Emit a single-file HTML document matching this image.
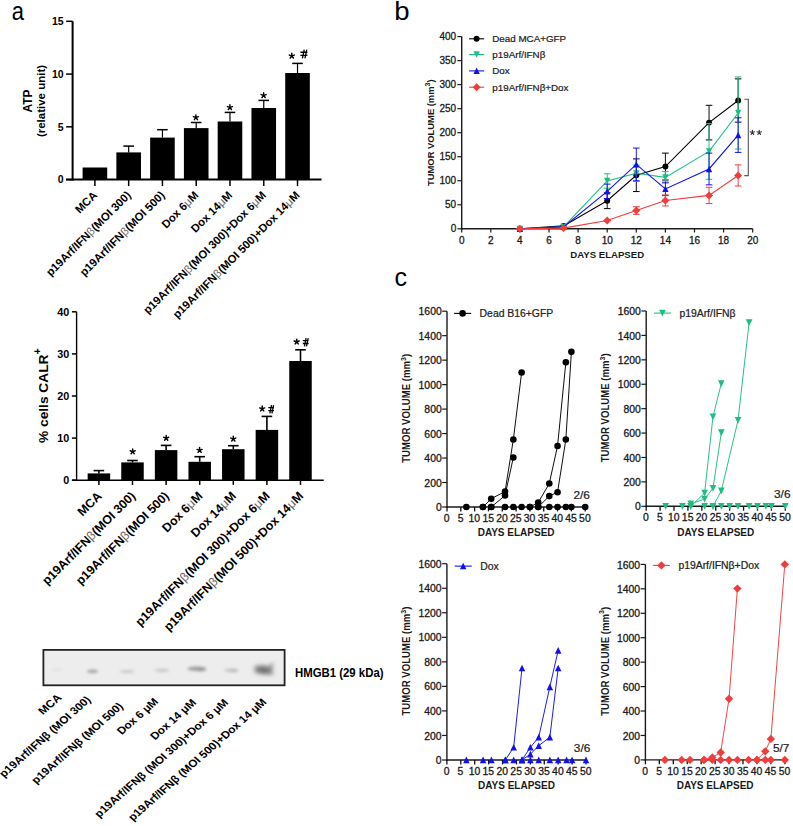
<!DOCTYPE html>
<html><head><meta charset="utf-8"><title>Figure</title>
<style>
html,body{margin:0;padding:0;background:#fff;}
body{width:793px;height:826px;overflow:hidden;}
svg{display:block;}
text{font-family:"Liberation Sans", sans-serif;}
.th{stroke:#1a1a1a;stroke-width:0.3px;}
.th2{stroke:#222;stroke-width:0.22px;}
</style></head><body>
<svg width="793" height="826" viewBox="0 0 793 826">
<rect width="793" height="826" fill="#fff"/>
<text x="0" y="0" font-size="25.5" text-anchor="start" fill="#000" transform="translate(11.80,20.40) scale(0.86,1)">a</text>
<text x="0" y="0" font-size="26" text-anchor="start" fill="#000" transform="translate(394.20,20.40) scale(1.06,1)">b</text>
<text x="394.50" y="285.50" font-size="25" text-anchor="start" fill="#000">c</text>
<line x1="72.60" y1="21.30" x2="72.60" y2="180.60" stroke="#000" stroke-width="2"/>
<line x1="66.10" y1="179.60" x2="321.50" y2="179.60" stroke="#000" stroke-width="2"/>
<line x1="66.10" y1="179.60" x2="72.60" y2="179.60" stroke="#000" stroke-width="1.5"/>
<text x="63.60" y="183.38" font-size="10.5" font-weight="bold" text-anchor="end" fill="#000">0</text>
<line x1="66.10" y1="126.83" x2="72.60" y2="126.83" stroke="#000" stroke-width="1.5"/>
<text x="63.60" y="130.61" font-size="10.5" font-weight="bold" text-anchor="end" fill="#000">5</text>
<line x1="66.10" y1="74.07" x2="72.60" y2="74.07" stroke="#000" stroke-width="1.5"/>
<text x="63.60" y="77.85" font-size="10.5" font-weight="bold" text-anchor="end" fill="#000">10</text>
<line x1="66.10" y1="21.30" x2="72.60" y2="21.30" stroke="#000" stroke-width="1.5"/>
<text x="63.60" y="25.08" font-size="10.5" font-weight="bold" text-anchor="end" fill="#000">15</text>
<line x1="94.90" y1="179.60" x2="94.90" y2="186.10" stroke="#000" stroke-width="1.5"/>
<rect x="82.60" y="167.50" width="24.60" height="12.10" fill="#000"/>
<text x="0.00" y="0.00" font-size="11.3" font-weight="bold" text-anchor="end" fill="#000" transform="translate(97.90,195.90) rotate(-45)">MCA</text>
<line x1="128.67" y1="179.60" x2="128.67" y2="186.10" stroke="#000" stroke-width="1.5"/>
<rect x="116.37" y="152.40" width="24.60" height="27.20" fill="#000"/>
<line x1="128.67" y1="146.10" x2="128.67" y2="152.40" stroke="#000" stroke-width="1.2"/>
<line x1="123.37" y1="146.10" x2="133.97" y2="146.10" stroke="#000" stroke-width="1.5"/>
<text x="0.00" y="0.00" font-size="11.3" font-weight="bold" text-anchor="end" fill="#000" transform="translate(131.67,195.90) rotate(-45)">p19Arf/IFN<tspan font-weight="normal" fill="#666">&#946;</tspan>(MOI 300)</text>
<line x1="162.44" y1="179.60" x2="162.44" y2="186.10" stroke="#000" stroke-width="1.5"/>
<rect x="150.14" y="137.60" width="24.60" height="42.00" fill="#000"/>
<line x1="162.44" y1="129.70" x2="162.44" y2="137.60" stroke="#000" stroke-width="1.2"/>
<line x1="157.14" y1="129.70" x2="167.74" y2="129.70" stroke="#000" stroke-width="1.5"/>
<text x="0.00" y="0.00" font-size="11.3" font-weight="bold" text-anchor="end" fill="#000" transform="translate(165.44,195.90) rotate(-45)">p19Arf/IFN<tspan font-weight="normal" fill="#666">&#946;</tspan>(MOI 500)</text>
<line x1="196.21" y1="179.60" x2="196.21" y2="186.10" stroke="#000" stroke-width="1.5"/>
<rect x="183.91" y="128.10" width="24.60" height="51.50" fill="#000"/>
<line x1="196.21" y1="122.50" x2="196.21" y2="128.10" stroke="#000" stroke-width="1.2"/>
<line x1="190.91" y1="122.50" x2="201.51" y2="122.50" stroke="#000" stroke-width="1.5"/>
<text x="0.00" y="0.00" font-size="11.3" font-weight="bold" text-anchor="end" fill="#000" transform="translate(199.21,195.90) rotate(-45)">Dox 6<tspan font-weight="normal" fill="#666">&#956;</tspan>M</text>
<line x1="229.98" y1="179.60" x2="229.98" y2="186.10" stroke="#000" stroke-width="1.5"/>
<rect x="217.68" y="121.50" width="24.60" height="58.10" fill="#000"/>
<line x1="229.98" y1="112.40" x2="229.98" y2="121.50" stroke="#000" stroke-width="1.2"/>
<line x1="224.68" y1="112.40" x2="235.28" y2="112.40" stroke="#000" stroke-width="1.5"/>
<text x="0.00" y="0.00" font-size="11.3" font-weight="bold" text-anchor="end" fill="#000" transform="translate(232.98,195.90) rotate(-45)">Dox 14<tspan font-weight="normal" fill="#666">&#956;</tspan>M</text>
<line x1="263.75" y1="179.60" x2="263.75" y2="186.10" stroke="#000" stroke-width="1.5"/>
<rect x="251.45" y="108.00" width="24.60" height="71.60" fill="#000"/>
<line x1="263.75" y1="100.40" x2="263.75" y2="108.00" stroke="#000" stroke-width="1.2"/>
<line x1="258.45" y1="100.40" x2="269.05" y2="100.40" stroke="#000" stroke-width="1.5"/>
<text x="0.00" y="0.00" font-size="11.3" font-weight="bold" text-anchor="end" fill="#000" transform="translate(266.75,195.90) rotate(-45)">p19Arf/IFN<tspan font-weight="normal" fill="#666">&#946;</tspan>(MOI 300)+Dox 6<tspan font-weight="normal" fill="#666">&#956;</tspan>M</text>
<line x1="297.52" y1="179.60" x2="297.52" y2="186.10" stroke="#000" stroke-width="1.5"/>
<rect x="285.22" y="73.00" width="24.60" height="106.60" fill="#000"/>
<line x1="297.52" y1="63.40" x2="297.52" y2="73.00" stroke="#000" stroke-width="1.2"/>
<line x1="292.22" y1="63.40" x2="302.82" y2="63.40" stroke="#000" stroke-width="1.5"/>
<text x="0.00" y="0.00" font-size="11.3" font-weight="bold" text-anchor="end" fill="#000" transform="translate(300.52,195.90) rotate(-45)">p19Arf/IFN<tspan font-weight="normal" fill="#666">&#946;</tspan>(MOI 500)+Dox 14<tspan font-weight="normal" fill="#666">&#956;</tspan>M</text>
<path d="M195.90,117.50L195.90,114.85M195.90,117.50L198.42,116.68M195.90,117.50L197.46,119.64M195.90,117.50L194.34,119.64M195.90,117.50L193.38,116.68" stroke="#000" stroke-width="1.45" stroke-linecap="round" fill="none"/>
<path d="M229.90,107.40L229.90,104.75M229.90,107.40L232.42,106.58M229.90,107.40L231.46,109.54M229.90,107.40L228.34,109.54M229.90,107.40L227.38,106.58" stroke="#000" stroke-width="1.45" stroke-linecap="round" fill="none"/>
<path d="M263.60,95.40L263.60,92.75M263.60,95.40L266.12,94.58M263.60,95.40L265.16,97.54M263.60,95.40L262.04,97.54M263.60,95.40L261.08,94.58" stroke="#000" stroke-width="1.45" stroke-linecap="round" fill="none"/>
<path d="M291.80,55.90L291.80,53.25M291.80,55.90L294.32,55.08M291.80,55.90L293.36,58.04M291.80,55.90L290.24,58.04M291.80,55.90L289.28,55.08" stroke="#000" stroke-width="1.45" stroke-linecap="round" fill="none"/>
<path d="M304.26,49.60L302.42,58.40M306.78,49.60L304.94,58.40M300.40,52.24L307.40,52.24M300.40,55.41L307.40,55.41" stroke="#000" stroke-width="1.3" fill="none"/>
<text x="0.00" y="0.00" font-size="12" font-weight="bold" text-anchor="middle" fill="#000" transform="translate(31.90,101.00) rotate(-90)">ATP</text>
<text x="0.00" y="0.00" font-size="11.5" font-weight="bold" text-anchor="middle" fill="#000" transform="translate(45.30,101.00) rotate(-90)">(relative unit)</text>
<line x1="76.60" y1="311.80" x2="76.60" y2="480.90" stroke="#000" stroke-width="1.4"/>
<line x1="71.90" y1="480.20" x2="323.70" y2="480.20" stroke="#000" stroke-width="1.4"/>
<line x1="71.90" y1="480.20" x2="76.60" y2="480.20" stroke="#000" stroke-width="1.5"/>
<text x="69.30" y="484.09" font-size="10.8" font-weight="bold" text-anchor="end" fill="#000">0</text>
<line x1="71.90" y1="438.10" x2="76.60" y2="438.10" stroke="#000" stroke-width="1.5"/>
<text x="69.30" y="441.99" font-size="10.8" font-weight="bold" text-anchor="end" fill="#000">10</text>
<line x1="71.90" y1="396.00" x2="76.60" y2="396.00" stroke="#000" stroke-width="1.5"/>
<text x="69.30" y="399.89" font-size="10.8" font-weight="bold" text-anchor="end" fill="#000">20</text>
<line x1="71.90" y1="353.90" x2="76.60" y2="353.90" stroke="#000" stroke-width="1.5"/>
<text x="69.30" y="357.79" font-size="10.8" font-weight="bold" text-anchor="end" fill="#000">30</text>
<line x1="71.90" y1="311.80" x2="76.60" y2="311.80" stroke="#000" stroke-width="1.5"/>
<text x="69.30" y="315.69" font-size="10.8" font-weight="bold" text-anchor="end" fill="#000">40</text>
<line x1="98.90" y1="480.20" x2="98.90" y2="484.90" stroke="#000" stroke-width="1.5"/>
<rect x="87.65" y="473.40" width="22.50" height="6.80" fill="#000"/>
<line x1="98.90" y1="470.60" x2="98.90" y2="473.40" stroke="#000" stroke-width="1.6"/>
<line x1="93.60" y1="470.60" x2="104.20" y2="470.60" stroke="#000" stroke-width="1.6"/>
<text x="0.00" y="0.00" font-size="12.4" font-weight="bold" text-anchor="end" fill="#000" transform="translate(102.50,496.80) rotate(-45)">MCA</text>
<line x1="132.50" y1="480.20" x2="132.50" y2="484.90" stroke="#000" stroke-width="1.5"/>
<rect x="121.25" y="462.40" width="22.50" height="17.80" fill="#000"/>
<line x1="132.50" y1="460.50" x2="132.50" y2="462.40" stroke="#000" stroke-width="1.6"/>
<line x1="127.20" y1="460.50" x2="137.80" y2="460.50" stroke="#000" stroke-width="1.6"/>
<text x="0.00" y="0.00" font-size="12.4" font-weight="bold" text-anchor="end" fill="#000" transform="translate(136.10,496.80) rotate(-45)">p19Arf/IFN<tspan font-weight="normal" fill="#666">&#946;</tspan>(MOI 300)</text>
<line x1="166.10" y1="480.20" x2="166.10" y2="484.90" stroke="#000" stroke-width="1.5"/>
<rect x="154.85" y="450.10" width="22.50" height="30.10" fill="#000"/>
<line x1="166.10" y1="445.40" x2="166.10" y2="450.10" stroke="#000" stroke-width="1.6"/>
<line x1="160.80" y1="445.40" x2="171.40" y2="445.40" stroke="#000" stroke-width="1.6"/>
<text x="0.00" y="0.00" font-size="12.4" font-weight="bold" text-anchor="end" fill="#000" transform="translate(169.70,496.80) rotate(-45)">p19Arf/IFN<tspan font-weight="normal" fill="#666">&#946;</tspan>(MOI 500)</text>
<line x1="199.70" y1="480.20" x2="199.70" y2="484.90" stroke="#000" stroke-width="1.5"/>
<rect x="188.45" y="461.80" width="22.50" height="18.40" fill="#000"/>
<line x1="199.70" y1="456.70" x2="199.70" y2="461.80" stroke="#000" stroke-width="1.6"/>
<line x1="194.40" y1="456.70" x2="205.00" y2="456.70" stroke="#000" stroke-width="1.6"/>
<text x="0.00" y="0.00" font-size="12.4" font-weight="bold" text-anchor="end" fill="#000" transform="translate(203.30,496.80) rotate(-45)">Dox 6<tspan font-weight="normal" fill="#666">&#956;</tspan>M</text>
<line x1="233.30" y1="480.20" x2="233.30" y2="484.90" stroke="#000" stroke-width="1.5"/>
<rect x="222.05" y="449.20" width="22.50" height="31.00" fill="#000"/>
<line x1="233.30" y1="445.70" x2="233.30" y2="449.20" stroke="#000" stroke-width="1.6"/>
<line x1="228.00" y1="445.70" x2="238.60" y2="445.70" stroke="#000" stroke-width="1.6"/>
<text x="0.00" y="0.00" font-size="12.4" font-weight="bold" text-anchor="end" fill="#000" transform="translate(236.90,496.80) rotate(-45)">Dox 14<tspan font-weight="normal" fill="#666">&#956;</tspan>M</text>
<line x1="266.90" y1="480.20" x2="266.90" y2="484.90" stroke="#000" stroke-width="1.5"/>
<rect x="255.65" y="429.90" width="22.50" height="50.30" fill="#000"/>
<line x1="266.90" y1="416.40" x2="266.90" y2="429.90" stroke="#000" stroke-width="1.6"/>
<line x1="261.60" y1="416.40" x2="272.20" y2="416.40" stroke="#000" stroke-width="1.6"/>
<text x="0.00" y="0.00" font-size="12.4" font-weight="bold" text-anchor="end" fill="#000" transform="translate(270.50,496.80) rotate(-45)">p19Arf/IFN<tspan font-weight="normal" fill="#666">&#946;</tspan>(MOI 300)+Dox 6<tspan font-weight="normal" fill="#666">&#956;</tspan>M</text>
<line x1="300.50" y1="480.20" x2="300.50" y2="484.90" stroke="#000" stroke-width="1.5"/>
<rect x="289.25" y="361.00" width="22.50" height="119.20" fill="#000"/>
<line x1="300.50" y1="349.80" x2="300.50" y2="361.00" stroke="#000" stroke-width="1.6"/>
<line x1="295.20" y1="349.80" x2="305.80" y2="349.80" stroke="#000" stroke-width="1.6"/>
<text x="0.00" y="0.00" font-size="12.4" font-weight="bold" text-anchor="end" fill="#000" transform="translate(304.10,496.80) rotate(-45)">p19Arf/IFN<tspan font-weight="normal" fill="#666">&#946;</tspan>(MOI 500)+Dox 14<tspan font-weight="normal" fill="#666">&#956;</tspan>M</text>
<path d="M132.70,451.60L132.70,448.95M132.70,451.60L135.22,450.78M132.70,451.60L134.26,453.74M132.70,451.60L131.14,453.74M132.70,451.60L130.18,450.78" stroke="#000" stroke-width="1.45" stroke-linecap="round" fill="none"/>
<path d="M166.20,438.10L166.20,435.45M166.20,438.10L168.72,437.28M166.20,438.10L167.76,440.24M166.20,438.10L164.64,440.24M166.20,438.10L163.68,437.28" stroke="#000" stroke-width="1.45" stroke-linecap="round" fill="none"/>
<path d="M199.60,450.20L199.60,447.55M199.60,450.20L202.12,449.38M199.60,450.20L201.16,452.34M199.60,450.20L198.04,452.34M199.60,450.20L197.08,449.38" stroke="#000" stroke-width="1.45" stroke-linecap="round" fill="none"/>
<path d="M233.30,438.90L233.30,436.25M233.30,438.90L235.82,438.08M233.30,438.90L234.86,441.04M233.30,438.90L231.74,441.04M233.30,438.90L230.78,438.08" stroke="#000" stroke-width="1.45" stroke-linecap="round" fill="none"/>
<path d="M262.20,408.70L262.20,406.05M262.20,408.70L264.72,407.88M262.20,408.70L263.76,410.84M262.20,408.70L260.64,410.84M262.20,408.70L259.68,407.88" stroke="#000" stroke-width="1.45" stroke-linecap="round" fill="none"/>
<path d="M271.57,405.10L269.82,413.40M273.62,405.10L271.87,413.40M268.30,407.59L274.00,407.59M268.30,410.58L274.00,410.58" stroke="#000" stroke-width="1.3" fill="none"/>
<path d="M296.70,341.80L296.70,339.15M296.70,341.80L299.22,340.98M296.70,341.80L298.26,343.94M296.70,341.80L295.14,343.94M296.70,341.80L294.18,340.98" stroke="#000" stroke-width="1.45" stroke-linecap="round" fill="none"/>
<path d="M306.10,338.10L304.38,346.30M308.19,338.10L306.46,346.30M302.80,340.56L308.60,340.56M302.80,343.51L308.60,343.51" stroke="#000" stroke-width="1.3" fill="none"/>
<text x="0" y="0" font-size="12.2" font-weight="bold" textLength="88.5" lengthAdjust="spacingAndGlyphs" transform="translate(47.5,443) rotate(-90)">% cells CALR</text>
<text x="0" y="0" font-size="10.5" font-weight="bold" transform="translate(41.2,354.6) rotate(-90)">+</text>
<rect x="43.4" y="649.9" width="241.2" height="35.4" fill="#ededed" stroke="#222" stroke-width="1.8"/>
<defs><filter id="bl" x="-50%" y="-80%" width="200%" height="260%"><feGaussianBlur stdDeviation="1.5"/></filter><filter id="bl2" x="-50%" y="-80%" width="200%" height="260%"><feGaussianBlur stdDeviation="2"/></filter></defs>
<ellipse cx="57" cy="669.8" rx="5" ry="1.3" fill="#000" fill-opacity="0.05" filter="url(#bl)"/>
<ellipse cx="92.5" cy="671.2" rx="5.5" ry="1.8" fill="#000" fill-opacity="0.3" filter="url(#bl)"/>
<ellipse cx="127.3" cy="671.6" rx="7.5" ry="1.5" fill="#000" fill-opacity="0.16" filter="url(#bl)"/>
<ellipse cx="162" cy="670.3" rx="7.5" ry="1.6" fill="#000" fill-opacity="0.17" filter="url(#bl)"/>
<ellipse cx="196.8" cy="668.8" rx="9.5" ry="2.2" fill="#000" fill-opacity="0.33" filter="url(#bl)"/>
<ellipse cx="231.5" cy="670.2" rx="7" ry="1.8" fill="#000" fill-opacity="0.17" filter="url(#bl)"/>
<ellipse cx="202" cy="670" rx="4.5" ry="1.8" fill="#000" fill-opacity="0.12" filter="url(#bl)"/>
<ellipse cx="234" cy="671" rx="3.5" ry="1.5" fill="#000" fill-opacity="0.08" filter="url(#bl)"/>
<path d="M254.5,666 Q262,664.5 268,666.5 L273.5,662 L272.5,668.5 L273,675 Q262,674.5 254.5,672.5 Z" fill="#000" fill-opacity="0.40" filter="url(#bl2)"/>
<ellipse cx="263.5" cy="670" rx="6" ry="3" fill="#000" fill-opacity="0.22" filter="url(#bl2)"/>
<text x="295.00" y="676.50" font-size="12" font-weight="bold" text-anchor="start" fill="#000" textLength="88.5" lengthAdjust="spacingAndGlyphs">HMGB1 (29 kDa)</text>
<text x="0" y="0" font-size="10.5" font-weight="bold" text-anchor="end" transform="translate(62.2,698.3) scale(1.13,1) rotate(-45)">MCA</text>
<text x="0" y="0" font-size="10.5" font-weight="bold" text-anchor="end" transform="translate(91.5,700.5) scale(1.13,1) rotate(-45)">p19Arf/IFN&#946; (MOI 300)</text>
<text x="0" y="0" font-size="10.5" font-weight="bold" text-anchor="end" transform="translate(123.8,707.0) scale(1.13,1) rotate(-45)">p19Arf/IFN&#946; (MOI 500)</text>
<text x="0" y="0" font-size="10.5" font-weight="bold" text-anchor="end" transform="translate(159.0,702.4) scale(1.13,1) rotate(-45)">Dox 6 &#956;M</text>
<text x="0" y="0" font-size="10.5" font-weight="bold" text-anchor="end" transform="translate(196.9,703.4) scale(1.13,1) rotate(-45)">Dox 14 &#956;M</text>
<text x="0" y="0" font-size="10.5" font-weight="bold" text-anchor="end" transform="translate(229.0,703.4) scale(1.13,1) rotate(-45)">p19Arf/IFN&#946; (MOI 300)+Dox 6 &#956;M</text>
<text x="0" y="0" font-size="10.5" font-weight="bold" text-anchor="end" transform="translate(267.3,702.7) scale(1.13,1) rotate(-45)">p19Arf/IFN&#946; (MOI 500)+Dox 14 &#956;M</text>
<line x1="461.70" y1="36.60" x2="461.70" y2="229.50" stroke="#1a1a1a" stroke-width="1.4"/>
<line x1="461.00" y1="228.80" x2="752.70" y2="228.80" stroke="#1a1a1a" stroke-width="1.4"/>
<line x1="457.40" y1="228.80" x2="461.70" y2="228.80" stroke="#1a1a1a" stroke-width="1.2"/>
<text x="456.20" y="232.40" font-size="10" text-anchor="end" fill="#1a1a1a" class="th">0</text>
<line x1="457.40" y1="204.78" x2="461.70" y2="204.78" stroke="#1a1a1a" stroke-width="1.2"/>
<text x="456.20" y="208.38" font-size="10" text-anchor="end" fill="#1a1a1a" class="th">50</text>
<line x1="457.40" y1="180.75" x2="461.70" y2="180.75" stroke="#1a1a1a" stroke-width="1.2"/>
<text x="456.20" y="184.35" font-size="10" text-anchor="end" fill="#1a1a1a" class="th">100</text>
<line x1="457.40" y1="156.73" x2="461.70" y2="156.73" stroke="#1a1a1a" stroke-width="1.2"/>
<text x="456.20" y="160.33" font-size="10" text-anchor="end" fill="#1a1a1a" class="th">150</text>
<line x1="457.40" y1="132.70" x2="461.70" y2="132.70" stroke="#1a1a1a" stroke-width="1.2"/>
<text x="456.20" y="136.30" font-size="10" text-anchor="end" fill="#1a1a1a" class="th">200</text>
<line x1="457.40" y1="108.68" x2="461.70" y2="108.68" stroke="#1a1a1a" stroke-width="1.2"/>
<text x="456.20" y="112.28" font-size="10" text-anchor="end" fill="#1a1a1a" class="th">250</text>
<line x1="457.40" y1="84.65" x2="461.70" y2="84.65" stroke="#1a1a1a" stroke-width="1.2"/>
<text x="456.20" y="88.25" font-size="10" text-anchor="end" fill="#1a1a1a" class="th">300</text>
<line x1="457.40" y1="60.63" x2="461.70" y2="60.63" stroke="#1a1a1a" stroke-width="1.2"/>
<text x="456.20" y="64.23" font-size="10" text-anchor="end" fill="#1a1a1a" class="th">350</text>
<line x1="457.40" y1="36.60" x2="461.70" y2="36.60" stroke="#1a1a1a" stroke-width="1.2"/>
<text x="456.20" y="40.20" font-size="10" text-anchor="end" fill="#1a1a1a" class="th">400</text>
<line x1="461.70" y1="228.80" x2="461.70" y2="232.40" stroke="#1a1a1a" stroke-width="1.2"/>
<text x="461.70" y="243.60" font-size="10" text-anchor="middle" fill="#1a1a1a" class="th">0</text>
<line x1="490.80" y1="228.80" x2="490.80" y2="232.40" stroke="#1a1a1a" stroke-width="1.2"/>
<text x="490.80" y="243.60" font-size="10" text-anchor="middle" fill="#1a1a1a" class="th">2</text>
<line x1="519.90" y1="228.80" x2="519.90" y2="232.40" stroke="#1a1a1a" stroke-width="1.2"/>
<text x="519.90" y="243.60" font-size="10" text-anchor="middle" fill="#1a1a1a" class="th">4</text>
<line x1="549.00" y1="228.80" x2="549.00" y2="232.40" stroke="#1a1a1a" stroke-width="1.2"/>
<text x="549.00" y="243.60" font-size="10" text-anchor="middle" fill="#1a1a1a" class="th">6</text>
<line x1="578.10" y1="228.80" x2="578.10" y2="232.40" stroke="#1a1a1a" stroke-width="1.2"/>
<text x="578.10" y="243.60" font-size="10" text-anchor="middle" fill="#1a1a1a" class="th">8</text>
<line x1="607.20" y1="228.80" x2="607.20" y2="232.40" stroke="#1a1a1a" stroke-width="1.2"/>
<text x="607.20" y="243.60" font-size="10" text-anchor="middle" fill="#1a1a1a" class="th">10</text>
<line x1="636.30" y1="228.80" x2="636.30" y2="232.40" stroke="#1a1a1a" stroke-width="1.2"/>
<text x="636.30" y="243.60" font-size="10" text-anchor="middle" fill="#1a1a1a" class="th">12</text>
<line x1="665.40" y1="228.80" x2="665.40" y2="232.40" stroke="#1a1a1a" stroke-width="1.2"/>
<text x="665.40" y="243.60" font-size="10" text-anchor="middle" fill="#1a1a1a" class="th">14</text>
<line x1="694.50" y1="228.80" x2="694.50" y2="232.40" stroke="#1a1a1a" stroke-width="1.2"/>
<text x="694.50" y="243.60" font-size="10" text-anchor="middle" fill="#1a1a1a" class="th">16</text>
<line x1="723.60" y1="228.80" x2="723.60" y2="232.40" stroke="#1a1a1a" stroke-width="1.2"/>
<text x="723.60" y="243.60" font-size="10" text-anchor="middle" fill="#1a1a1a" class="th">18</text>
<line x1="752.70" y1="228.80" x2="752.70" y2="232.40" stroke="#1a1a1a" stroke-width="1.2"/>
<text x="752.70" y="243.60" font-size="10" text-anchor="middle" fill="#1a1a1a" class="th">20</text>
<text x="607.20" y="257.70" font-size="9.6" font-weight="bold" text-anchor="middle" fill="#1a1a1a">DAYS ELAPSED</text>
<text x="0" y="0" font-size="9.4" font-weight="bold" text-anchor="middle" fill="#1a1a1a" transform="translate(433.6,132.7) rotate(-90)">TUMOR VOLUME (mm<tspan font-size="7" dy="-4">3</tspan><tspan dy="4">)</tspan></text>
<line x1="607.20" y1="192.76" x2="607.20" y2="208.62" stroke="#000" stroke-width="0.95"/>
<line x1="603.90" y1="192.76" x2="610.50" y2="192.76" stroke="#000" stroke-width="1.0"/>
<line x1="603.90" y1="208.62" x2="610.50" y2="208.62" stroke="#000" stroke-width="1.0"/>
<line x1="636.30" y1="158.89" x2="636.30" y2="191.56" stroke="#000" stroke-width="0.95"/>
<line x1="633.00" y1="158.89" x2="639.60" y2="158.89" stroke="#000" stroke-width="1.0"/>
<line x1="633.00" y1="191.56" x2="639.60" y2="191.56" stroke="#000" stroke-width="1.0"/>
<line x1="665.40" y1="153.12" x2="665.40" y2="180.03" stroke="#000" stroke-width="0.95"/>
<line x1="662.10" y1="153.12" x2="668.70" y2="153.12" stroke="#000" stroke-width="1.0"/>
<line x1="662.10" y1="180.03" x2="668.70" y2="180.03" stroke="#000" stroke-width="1.0"/>
<line x1="709.05" y1="105.31" x2="709.05" y2="139.91" stroke="#000" stroke-width="0.95"/>
<line x1="705.75" y1="105.31" x2="712.35" y2="105.31" stroke="#000" stroke-width="1.0"/>
<line x1="705.75" y1="139.91" x2="712.35" y2="139.91" stroke="#000" stroke-width="1.0"/>
<line x1="738.15" y1="78.88" x2="738.15" y2="122.13" stroke="#000" stroke-width="0.95"/>
<line x1="734.85" y1="78.88" x2="741.45" y2="78.88" stroke="#000" stroke-width="1.0"/>
<line x1="734.85" y1="122.13" x2="741.45" y2="122.13" stroke="#000" stroke-width="1.0"/>
<polyline points="519.90,228.80 563.55,225.92 607.20,200.69 636.30,175.22 665.40,166.58 709.05,122.61 738.15,100.51" fill="none" stroke="#000" stroke-width="1.1"/>
<circle cx="519.90" cy="228.80" r="2.97" fill="#000"/>
<circle cx="563.55" cy="225.92" r="2.97" fill="#000"/>
<circle cx="607.20" cy="200.69" r="2.97" fill="#000"/>
<circle cx="636.30" cy="175.22" r="2.97" fill="#000"/>
<circle cx="665.40" cy="166.58" r="2.97" fill="#000"/>
<circle cx="709.05" cy="122.61" r="2.97" fill="#000"/>
<circle cx="738.15" cy="100.51" r="2.97" fill="#000"/>
<line x1="607.20" y1="173.78" x2="607.20" y2="188.20" stroke="#1cbf80" stroke-width="0.95"/>
<line x1="603.90" y1="173.78" x2="610.50" y2="173.78" stroke="#1cbf80" stroke-width="1.0"/>
<line x1="603.90" y1="188.20" x2="610.50" y2="188.20" stroke="#1cbf80" stroke-width="1.0"/>
<line x1="636.30" y1="165.13" x2="636.30" y2="181.47" stroke="#1cbf80" stroke-width="0.95"/>
<line x1="633.00" y1="165.13" x2="639.60" y2="165.13" stroke="#1cbf80" stroke-width="1.0"/>
<line x1="633.00" y1="181.47" x2="639.60" y2="181.47" stroke="#1cbf80" stroke-width="1.0"/>
<line x1="665.40" y1="171.62" x2="665.40" y2="183.15" stroke="#1cbf80" stroke-width="0.95"/>
<line x1="662.10" y1="171.62" x2="668.70" y2="171.62" stroke="#1cbf80" stroke-width="1.0"/>
<line x1="662.10" y1="183.15" x2="668.70" y2="183.15" stroke="#1cbf80" stroke-width="1.0"/>
<line x1="709.05" y1="123.57" x2="709.05" y2="179.31" stroke="#1cbf80" stroke-width="0.95"/>
<line x1="705.75" y1="123.57" x2="712.35" y2="123.57" stroke="#1cbf80" stroke-width="1.0"/>
<line x1="705.75" y1="179.31" x2="712.35" y2="179.31" stroke="#1cbf80" stroke-width="1.0"/>
<line x1="738.15" y1="76.96" x2="738.15" y2="149.04" stroke="#1cbf80" stroke-width="0.95"/>
<line x1="734.85" y1="76.96" x2="741.45" y2="76.96" stroke="#1cbf80" stroke-width="1.0"/>
<line x1="734.85" y1="149.04" x2="741.45" y2="149.04" stroke="#1cbf80" stroke-width="1.0"/>
<polyline points="519.90,228.80 563.55,226.88 607.20,180.99 636.30,173.30 665.40,177.39 709.05,151.44 738.15,113.00" fill="none" stroke="#1cbf80" stroke-width="1.1"/>
<path d="M516.75,225.65L523.05,225.65L519.90,232.11Z" fill="#1cbf80"/>
<path d="M560.40,223.73L566.70,223.73L563.55,230.19Z" fill="#1cbf80"/>
<path d="M604.05,177.84L610.35,177.84L607.20,184.30Z" fill="#1cbf80"/>
<path d="M633.15,170.15L639.45,170.15L636.30,176.61Z" fill="#1cbf80"/>
<path d="M662.25,174.24L668.55,174.24L665.40,180.69Z" fill="#1cbf80"/>
<path d="M705.90,148.29L712.20,148.29L709.05,154.75Z" fill="#1cbf80"/>
<path d="M735.00,109.85L741.30,109.85L738.15,116.31Z" fill="#1cbf80"/>
<line x1="607.20" y1="184.11" x2="607.20" y2="198.53" stroke="#1010f0" stroke-width="0.95"/>
<line x1="603.90" y1="184.11" x2="610.50" y2="184.11" stroke="#1010f0" stroke-width="1.0"/>
<line x1="603.90" y1="198.53" x2="610.50" y2="198.53" stroke="#1010f0" stroke-width="1.0"/>
<line x1="636.30" y1="148.08" x2="636.30" y2="180.75" stroke="#1010f0" stroke-width="0.95"/>
<line x1="633.00" y1="148.08" x2="639.60" y2="148.08" stroke="#1010f0" stroke-width="1.0"/>
<line x1="633.00" y1="180.75" x2="639.60" y2="180.75" stroke="#1010f0" stroke-width="1.0"/>
<line x1="665.40" y1="182.19" x2="665.40" y2="195.65" stroke="#1010f0" stroke-width="0.95"/>
<line x1="662.10" y1="182.19" x2="668.70" y2="182.19" stroke="#1010f0" stroke-width="1.0"/>
<line x1="662.10" y1="195.65" x2="668.70" y2="195.65" stroke="#1010f0" stroke-width="1.0"/>
<line x1="709.05" y1="153.12" x2="709.05" y2="184.83" stroke="#1010f0" stroke-width="0.95"/>
<line x1="705.75" y1="153.12" x2="712.35" y2="153.12" stroke="#1010f0" stroke-width="1.0"/>
<line x1="705.75" y1="184.83" x2="712.35" y2="184.83" stroke="#1010f0" stroke-width="1.0"/>
<line x1="738.15" y1="117.80" x2="738.15" y2="152.40" stroke="#1010f0" stroke-width="0.95"/>
<line x1="734.85" y1="117.80" x2="741.45" y2="117.80" stroke="#1010f0" stroke-width="1.0"/>
<line x1="734.85" y1="152.40" x2="741.45" y2="152.40" stroke="#1010f0" stroke-width="1.0"/>
<polyline points="519.90,228.80 563.55,226.88 607.20,191.32 636.30,164.41 665.40,188.92 709.05,168.98 738.15,135.10" fill="none" stroke="#1010f0" stroke-width="1.1"/>
<path d="M516.75,231.95L523.05,231.95L519.90,225.49Z" fill="#1010f0"/>
<path d="M560.40,230.03L566.70,230.03L563.55,223.57Z" fill="#1010f0"/>
<path d="M604.05,194.47L610.35,194.47L607.20,188.01Z" fill="#1010f0"/>
<path d="M633.15,167.56L639.45,167.56L636.30,161.11Z" fill="#1010f0"/>
<path d="M662.25,192.07L668.55,192.07L665.40,185.61Z" fill="#1010f0"/>
<path d="M705.90,172.13L712.20,172.13L709.05,165.67Z" fill="#1010f0"/>
<path d="M735.00,138.25L741.30,138.25L738.15,131.80Z" fill="#1010f0"/>
<line x1="636.30" y1="206.70" x2="636.30" y2="214.38" stroke="#f03c3c" stroke-width="0.95"/>
<line x1="633.00" y1="206.70" x2="639.60" y2="206.70" stroke="#f03c3c" stroke-width="1.0"/>
<line x1="633.00" y1="214.38" x2="639.60" y2="214.38" stroke="#f03c3c" stroke-width="1.0"/>
<line x1="665.40" y1="194.92" x2="665.40" y2="205.98" stroke="#f03c3c" stroke-width="0.95"/>
<line x1="662.10" y1="194.92" x2="668.70" y2="194.92" stroke="#f03c3c" stroke-width="1.0"/>
<line x1="662.10" y1="205.98" x2="668.70" y2="205.98" stroke="#f03c3c" stroke-width="1.0"/>
<line x1="709.05" y1="187.24" x2="709.05" y2="203.57" stroke="#f03c3c" stroke-width="0.95"/>
<line x1="705.75" y1="187.24" x2="712.35" y2="187.24" stroke="#f03c3c" stroke-width="1.0"/>
<line x1="705.75" y1="203.57" x2="712.35" y2="203.57" stroke="#f03c3c" stroke-width="1.0"/>
<line x1="738.15" y1="164.89" x2="738.15" y2="186.04" stroke="#f03c3c" stroke-width="0.95"/>
<line x1="734.85" y1="164.89" x2="741.45" y2="164.89" stroke="#f03c3c" stroke-width="1.0"/>
<line x1="734.85" y1="186.04" x2="741.45" y2="186.04" stroke="#f03c3c" stroke-width="1.0"/>
<polyline points="519.90,228.80 563.55,228.08 607.20,220.49 636.30,210.54 665.40,200.45 709.05,195.41 738.15,175.46" fill="none" stroke="#f03c3c" stroke-width="1.1"/>
<path d="M519.90,224.80L523.90,228.80L519.90,232.80L515.90,228.80Z" fill="#f03c3c"/>
<path d="M563.55,224.08L567.55,228.08L563.55,232.08L559.55,228.08Z" fill="#f03c3c"/>
<path d="M607.20,216.49L611.20,220.49L607.20,224.49L603.20,220.49Z" fill="#f03c3c"/>
<path d="M636.30,206.54L640.30,210.54L636.30,214.54L632.30,210.54Z" fill="#f03c3c"/>
<path d="M665.40,196.45L669.40,200.45L665.40,204.45L661.40,200.45Z" fill="#f03c3c"/>
<path d="M709.05,191.41L713.05,195.41L709.05,199.41L705.05,195.41Z" fill="#f03c3c"/>
<path d="M738.15,171.46L742.15,175.46L738.15,179.46L734.15,175.46Z" fill="#f03c3c"/>
<line x1="469.10" y1="38.80" x2="484.20" y2="38.80" stroke="#000" stroke-width="1.1"/>
<circle cx="476.60" cy="38.80" r="2.97" fill="#000"/>
<text x="492.30" y="42.30" font-size="9.8" text-anchor="start" fill="#222" class="th2">Dead MCA+GFP</text>
<line x1="469.10" y1="54.50" x2="484.20" y2="54.50" stroke="#1cbf80" stroke-width="1.1"/>
<path d="M473.45,51.35L479.75,51.35L476.60,57.81Z" fill="#1cbf80"/>
<text x="492.30" y="58.00" font-size="9.8" text-anchor="start" fill="#222" class="th2">p19Arf/IFN&#946;</text>
<line x1="469.10" y1="70.90" x2="484.20" y2="70.90" stroke="#1010f0" stroke-width="1.1"/>
<path d="M473.45,74.05L479.75,74.05L476.60,67.59Z" fill="#1010f0"/>
<text x="492.30" y="74.40" font-size="9.8" text-anchor="start" fill="#222" class="th2">Dox</text>
<line x1="469.10" y1="87.20" x2="484.20" y2="87.20" stroke="#f03c3c" stroke-width="1.1"/>
<path d="M476.60,83.20L480.60,87.20L476.60,91.20L472.60,87.20Z" fill="#f03c3c"/>
<text x="492.30" y="90.70" font-size="9.8" text-anchor="start" fill="#222" class="th2">p19Arf/IFN&#946;+Dox</text>
<path d="M744.3,99.3H748.3V175.6H744.3" fill="none" stroke="#555" stroke-width="1.1"/>
<path d="M752.40,132.50L752.40,130.20M752.40,132.50L754.59,131.79M752.40,132.50L753.75,134.36M752.40,132.50L751.05,134.36M752.40,132.50L750.21,131.79" stroke="#333" stroke-width="1.1" stroke-linecap="round" fill="none"/>
<path d="M759.20,132.50L759.20,130.20M759.20,132.50L761.39,131.79M759.20,132.50L760.55,134.36M759.20,132.50L757.85,134.36M759.20,132.50L757.01,131.79" stroke="#333" stroke-width="1.1" stroke-linecap="round" fill="none"/>
<line x1="447.00" y1="311.20" x2="447.00" y2="507.70" stroke="#1a1a1a" stroke-width="1.4"/>
<line x1="446.30" y1="507.00" x2="585.20" y2="507.00" stroke="#1a1a1a" stroke-width="1.4"/>
<line x1="442.20" y1="507.00" x2="447.00" y2="507.00" stroke="#1a1a1a" stroke-width="1.2"/>
<text x="0" y="0" font-size="10.4" text-anchor="end" fill="#1a1a1a" transform="translate(441.70,511.10) scale(1.0,1)" class="th">0</text>
<line x1="442.20" y1="482.52" x2="447.00" y2="482.52" stroke="#1a1a1a" stroke-width="1.2"/>
<text x="0" y="0" font-size="10.4" text-anchor="end" fill="#1a1a1a" transform="translate(441.70,486.62) scale(1.0,1)" class="th">200</text>
<line x1="442.20" y1="458.05" x2="447.00" y2="458.05" stroke="#1a1a1a" stroke-width="1.2"/>
<text x="0" y="0" font-size="10.4" text-anchor="end" fill="#1a1a1a" transform="translate(441.70,462.15) scale(1.0,1)" class="th">400</text>
<line x1="442.20" y1="433.57" x2="447.00" y2="433.57" stroke="#1a1a1a" stroke-width="1.2"/>
<text x="0" y="0" font-size="10.4" text-anchor="end" fill="#1a1a1a" transform="translate(441.70,437.68) scale(1.0,1)" class="th">600</text>
<line x1="442.20" y1="409.10" x2="447.00" y2="409.10" stroke="#1a1a1a" stroke-width="1.2"/>
<text x="0" y="0" font-size="10.4" text-anchor="end" fill="#1a1a1a" transform="translate(441.70,413.20) scale(1.0,1)" class="th">800</text>
<line x1="442.20" y1="384.62" x2="447.00" y2="384.62" stroke="#1a1a1a" stroke-width="1.2"/>
<text x="0" y="0" font-size="10.4" text-anchor="end" fill="#1a1a1a" transform="translate(441.70,388.73) scale(1.0,1)" class="th">1000</text>
<line x1="442.20" y1="360.15" x2="447.00" y2="360.15" stroke="#1a1a1a" stroke-width="1.2"/>
<text x="0" y="0" font-size="10.4" text-anchor="end" fill="#1a1a1a" transform="translate(441.70,364.25) scale(1.0,1)" class="th">1200</text>
<line x1="442.20" y1="335.67" x2="447.00" y2="335.67" stroke="#1a1a1a" stroke-width="1.2"/>
<text x="0" y="0" font-size="10.4" text-anchor="end" fill="#1a1a1a" transform="translate(441.70,339.77) scale(1.0,1)" class="th">1400</text>
<line x1="442.20" y1="311.20" x2="447.00" y2="311.20" stroke="#1a1a1a" stroke-width="1.2"/>
<text x="0" y="0" font-size="10.4" text-anchor="end" fill="#1a1a1a" transform="translate(441.70,315.30) scale(1.0,1)" class="th">1600</text>
<line x1="447.00" y1="507.00" x2="447.00" y2="511.40" stroke="#111" stroke-width="1.3"/>
<text x="0" y="0" font-size="10.4" text-anchor="middle" fill="#1a1a1a" transform="translate(446.70,521.80) scale(1.0,1)" class="th">0</text>
<line x1="460.82" y1="507.00" x2="460.82" y2="511.40" stroke="#111" stroke-width="1.3"/>
<text x="0" y="0" font-size="10.4" text-anchor="middle" fill="#1a1a1a" transform="translate(460.52,521.80) scale(1.0,1)" class="th">5</text>
<line x1="474.64" y1="507.00" x2="474.64" y2="511.40" stroke="#111" stroke-width="1.3"/>
<text x="0" y="0" font-size="10.4" text-anchor="middle" fill="#1a1a1a" transform="translate(474.34,521.80) scale(1.0,1)" class="th">10</text>
<line x1="488.46" y1="507.00" x2="488.46" y2="511.40" stroke="#111" stroke-width="1.3"/>
<text x="0" y="0" font-size="10.4" text-anchor="middle" fill="#1a1a1a" transform="translate(488.16,521.80) scale(1.0,1)" class="th">15</text>
<line x1="502.28" y1="507.00" x2="502.28" y2="511.40" stroke="#111" stroke-width="1.3"/>
<text x="0" y="0" font-size="10.4" text-anchor="middle" fill="#1a1a1a" transform="translate(501.98,521.80) scale(1.0,1)" class="th">20</text>
<line x1="516.10" y1="507.00" x2="516.10" y2="511.40" stroke="#111" stroke-width="1.3"/>
<text x="0" y="0" font-size="10.4" text-anchor="middle" fill="#1a1a1a" transform="translate(515.80,521.80) scale(1.0,1)" class="th">25</text>
<line x1="529.92" y1="507.00" x2="529.92" y2="511.40" stroke="#111" stroke-width="1.3"/>
<text x="0" y="0" font-size="10.4" text-anchor="middle" fill="#1a1a1a" transform="translate(529.62,521.80) scale(1.0,1)" class="th">30</text>
<line x1="543.74" y1="507.00" x2="543.74" y2="511.40" stroke="#111" stroke-width="1.3"/>
<text x="0" y="0" font-size="10.4" text-anchor="middle" fill="#1a1a1a" transform="translate(543.44,521.80) scale(1.0,1)" class="th">35</text>
<line x1="557.56" y1="507.00" x2="557.56" y2="511.40" stroke="#111" stroke-width="1.3"/>
<text x="0" y="0" font-size="10.4" text-anchor="middle" fill="#1a1a1a" transform="translate(557.26,521.80) scale(1.0,1)" class="th">40</text>
<line x1="571.38" y1="507.00" x2="571.38" y2="511.40" stroke="#111" stroke-width="1.3"/>
<text x="0" y="0" font-size="10.4" text-anchor="middle" fill="#1a1a1a" transform="translate(571.08,521.80) scale(1.0,1)" class="th">45</text>
<line x1="585.20" y1="507.00" x2="585.20" y2="511.40" stroke="#111" stroke-width="1.3"/>
<text x="0" y="0" font-size="10.4" text-anchor="middle" fill="#1a1a1a" transform="translate(584.90,521.80) scale(1.0,1)" class="th">50</text>
<text x="0" y="0" font-size="10" font-weight="bold" text-anchor="middle" fill="#1a1a1a" transform="translate(516.10,536.30) scale(1.0,1)">DAYS ELAPSED</text>
<text x="0" y="0" font-size="9.6" font-weight="bold" text-anchor="middle" fill="#1a1a1a" transform="translate(410.20,408.30) scale(1,1) rotate(-90) scale(1,1.08)">TUMOR VOLUME (mm<tspan font-size="7" dy="-4">3</tspan><tspan dy="4">)</tspan></text>
<polyline points="482.93,507.00 491.22,498.68 505.04,491.58 513.34,439.57 521.63,372.51" fill="none" stroke="#000" stroke-width="0.95"/>
<polyline points="491.22,507.00 505.04,495.50 513.34,457.44" fill="none" stroke="#000" stroke-width="0.95"/>
<polyline points="529.92,507.00 538.21,502.59 549.27,483.50 557.56,445.93 565.85,362.35" fill="none" stroke="#000" stroke-width="0.95"/>
<polyline points="538.21,507.00 549.27,496.11 557.56,492.19 565.85,439.57 571.38,351.83" fill="none" stroke="#000" stroke-width="0.95"/>
<circle cx="466.35" cy="507.00" r="3.30" fill="#000"/>
<circle cx="482.93" cy="507.00" r="3.30" fill="#000"/>
<circle cx="491.22" cy="507.00" r="3.30" fill="#000"/>
<circle cx="505.04" cy="507.00" r="3.30" fill="#000"/>
<circle cx="513.34" cy="507.00" r="3.30" fill="#000"/>
<circle cx="521.63" cy="507.00" r="3.30" fill="#000"/>
<circle cx="529.92" cy="507.00" r="3.30" fill="#000"/>
<circle cx="538.21" cy="507.00" r="3.30" fill="#000"/>
<circle cx="549.27" cy="507.00" r="3.30" fill="#000"/>
<circle cx="557.56" cy="507.00" r="3.30" fill="#000"/>
<circle cx="565.85" cy="507.00" r="3.30" fill="#000"/>
<circle cx="571.38" cy="507.00" r="3.30" fill="#000"/>
<circle cx="585.20" cy="507.00" r="3.30" fill="#000"/>
<circle cx="482.93" cy="507.00" r="3.30" fill="#000"/>
<circle cx="491.22" cy="498.68" r="3.30" fill="#000"/>
<circle cx="505.04" cy="491.58" r="3.30" fill="#000"/>
<circle cx="513.34" cy="439.57" r="3.30" fill="#000"/>
<circle cx="521.63" cy="372.51" r="3.30" fill="#000"/>
<circle cx="491.22" cy="507.00" r="3.30" fill="#000"/>
<circle cx="505.04" cy="495.50" r="3.30" fill="#000"/>
<circle cx="513.34" cy="457.44" r="3.30" fill="#000"/>
<circle cx="529.92" cy="507.00" r="3.30" fill="#000"/>
<circle cx="538.21" cy="502.59" r="3.30" fill="#000"/>
<circle cx="549.27" cy="483.50" r="3.30" fill="#000"/>
<circle cx="557.56" cy="445.93" r="3.30" fill="#000"/>
<circle cx="565.85" cy="362.35" r="3.30" fill="#000"/>
<circle cx="538.21" cy="507.00" r="3.30" fill="#000"/>
<circle cx="549.27" cy="496.11" r="3.30" fill="#000"/>
<circle cx="557.56" cy="492.19" r="3.30" fill="#000"/>
<circle cx="565.85" cy="439.57" r="3.30" fill="#000"/>
<circle cx="571.38" cy="351.83" r="3.30" fill="#000"/>
<line x1="454.10" y1="313.40" x2="471.10" y2="313.40" stroke="#000" stroke-width="1.1"/>
<circle cx="462.60" cy="313.40" r="3.30" fill="#000"/>
<text x="0" y="0" font-size="10" text-anchor="start" fill="#222" transform="translate(479.60,317.00) scale(1.04,1)" class="th2">Dead B16+GFP</text>
<text x="0" y="0" font-size="11.3" text-anchor="start" fill="#222" transform="translate(573.40,498.90) scale(1.05,1)" class="th2">2/6</text>
<line x1="646.20" y1="311.00" x2="646.20" y2="507.00" stroke="#1a1a1a" stroke-width="1.4"/>
<line x1="645.50" y1="506.30" x2="785.30" y2="506.30" stroke="#1a1a1a" stroke-width="1.4"/>
<line x1="641.40" y1="506.30" x2="646.20" y2="506.30" stroke="#1a1a1a" stroke-width="1.2"/>
<text x="0" y="0" font-size="10.4" text-anchor="end" fill="#1a1a1a" transform="translate(640.90,510.40) scale(1.0,1)" class="th">0</text>
<line x1="641.40" y1="481.89" x2="646.20" y2="481.89" stroke="#1a1a1a" stroke-width="1.2"/>
<text x="0" y="0" font-size="10.4" text-anchor="end" fill="#1a1a1a" transform="translate(640.90,485.99) scale(1.0,1)" class="th">200</text>
<line x1="641.40" y1="457.48" x2="646.20" y2="457.48" stroke="#1a1a1a" stroke-width="1.2"/>
<text x="0" y="0" font-size="10.4" text-anchor="end" fill="#1a1a1a" transform="translate(640.90,461.58) scale(1.0,1)" class="th">400</text>
<line x1="641.40" y1="433.06" x2="646.20" y2="433.06" stroke="#1a1a1a" stroke-width="1.2"/>
<text x="0" y="0" font-size="10.4" text-anchor="end" fill="#1a1a1a" transform="translate(640.90,437.16) scale(1.0,1)" class="th">600</text>
<line x1="641.40" y1="408.65" x2="646.20" y2="408.65" stroke="#1a1a1a" stroke-width="1.2"/>
<text x="0" y="0" font-size="10.4" text-anchor="end" fill="#1a1a1a" transform="translate(640.90,412.75) scale(1.0,1)" class="th">800</text>
<line x1="641.40" y1="384.24" x2="646.20" y2="384.24" stroke="#1a1a1a" stroke-width="1.2"/>
<text x="0" y="0" font-size="10.4" text-anchor="end" fill="#1a1a1a" transform="translate(640.90,388.34) scale(1.0,1)" class="th">1000</text>
<line x1="641.40" y1="359.83" x2="646.20" y2="359.83" stroke="#1a1a1a" stroke-width="1.2"/>
<text x="0" y="0" font-size="10.4" text-anchor="end" fill="#1a1a1a" transform="translate(640.90,363.93) scale(1.0,1)" class="th">1200</text>
<line x1="641.40" y1="335.41" x2="646.20" y2="335.41" stroke="#1a1a1a" stroke-width="1.2"/>
<text x="0" y="0" font-size="10.4" text-anchor="end" fill="#1a1a1a" transform="translate(640.90,339.51) scale(1.0,1)" class="th">1400</text>
<line x1="641.40" y1="311.00" x2="646.20" y2="311.00" stroke="#1a1a1a" stroke-width="1.2"/>
<text x="0" y="0" font-size="10.4" text-anchor="end" fill="#1a1a1a" transform="translate(640.90,315.10) scale(1.0,1)" class="th">1600</text>
<line x1="646.20" y1="506.30" x2="646.20" y2="510.70" stroke="#111" stroke-width="1.3"/>
<text x="0" y="0" font-size="10.4" text-anchor="middle" fill="#1a1a1a" transform="translate(645.90,521.10) scale(1.0,1)" class="th">0</text>
<line x1="660.11" y1="506.30" x2="660.11" y2="510.70" stroke="#111" stroke-width="1.3"/>
<text x="0" y="0" font-size="10.4" text-anchor="middle" fill="#1a1a1a" transform="translate(659.81,521.10) scale(1.0,1)" class="th">5</text>
<line x1="674.02" y1="506.30" x2="674.02" y2="510.70" stroke="#111" stroke-width="1.3"/>
<text x="0" y="0" font-size="10.4" text-anchor="middle" fill="#1a1a1a" transform="translate(673.72,521.10) scale(1.0,1)" class="th">10</text>
<line x1="687.93" y1="506.30" x2="687.93" y2="510.70" stroke="#111" stroke-width="1.3"/>
<text x="0" y="0" font-size="10.4" text-anchor="middle" fill="#1a1a1a" transform="translate(687.63,521.10) scale(1.0,1)" class="th">15</text>
<line x1="701.84" y1="506.30" x2="701.84" y2="510.70" stroke="#111" stroke-width="1.3"/>
<text x="0" y="0" font-size="10.4" text-anchor="middle" fill="#1a1a1a" transform="translate(701.54,521.10) scale(1.0,1)" class="th">20</text>
<line x1="715.75" y1="506.30" x2="715.75" y2="510.70" stroke="#111" stroke-width="1.3"/>
<text x="0" y="0" font-size="10.4" text-anchor="middle" fill="#1a1a1a" transform="translate(715.45,521.10) scale(1.0,1)" class="th">25</text>
<line x1="729.66" y1="506.30" x2="729.66" y2="510.70" stroke="#111" stroke-width="1.3"/>
<text x="0" y="0" font-size="10.4" text-anchor="middle" fill="#1a1a1a" transform="translate(729.36,521.10) scale(1.0,1)" class="th">30</text>
<line x1="743.57" y1="506.30" x2="743.57" y2="510.70" stroke="#111" stroke-width="1.3"/>
<text x="0" y="0" font-size="10.4" text-anchor="middle" fill="#1a1a1a" transform="translate(743.27,521.10) scale(1.0,1)" class="th">35</text>
<line x1="757.48" y1="506.30" x2="757.48" y2="510.70" stroke="#111" stroke-width="1.3"/>
<text x="0" y="0" font-size="10.4" text-anchor="middle" fill="#1a1a1a" transform="translate(757.18,521.10) scale(1.0,1)" class="th">40</text>
<line x1="771.39" y1="506.30" x2="771.39" y2="510.70" stroke="#111" stroke-width="1.3"/>
<text x="0" y="0" font-size="10.4" text-anchor="middle" fill="#1a1a1a" transform="translate(771.09,521.10) scale(1.0,1)" class="th">45</text>
<line x1="785.30" y1="506.30" x2="785.30" y2="510.70" stroke="#111" stroke-width="1.3"/>
<text x="0" y="0" font-size="10.4" text-anchor="middle" fill="#1a1a1a" transform="translate(785.00,521.10) scale(1.0,1)" class="th">50</text>
<text x="0" y="0" font-size="10" font-weight="bold" text-anchor="middle" fill="#1a1a1a" transform="translate(715.75,536.30) scale(1.0,1)">DAYS ELAPSED</text>
<text x="0" y="0" font-size="9.6" font-weight="bold" text-anchor="middle" fill="#1a1a1a" transform="translate(609.40,407.85) scale(1,1) rotate(-90) scale(1,1.08)">TUMOR VOLUME (mm<tspan font-size="7" dy="-4">3</tspan><tspan dy="4">)</tspan></text>
<polyline points="690.71,506.30 704.62,493.00 712.97,416.71 721.31,383.63" fill="none" stroke="#1cbf80" stroke-width="0.95"/>
<polyline points="690.71,503.86 704.62,498.98 712.97,488.36 721.31,432.70" fill="none" stroke="#1cbf80" stroke-width="0.95"/>
<polyline points="712.97,506.30 721.31,490.92 738.01,420.37 749.13,322.47" fill="none" stroke="#1cbf80" stroke-width="0.95"/>
<path d="M662.35,502.98L669.00,502.98L665.67,509.79Z" fill="#1cbf80"/>
<path d="M679.04,502.98L685.69,502.98L682.37,509.79Z" fill="#1cbf80"/>
<path d="M687.39,502.98L694.04,502.98L690.71,509.79Z" fill="#1cbf80"/>
<path d="M701.30,502.98L707.95,502.98L704.62,509.79Z" fill="#1cbf80"/>
<path d="M709.64,502.98L716.29,502.98L712.97,509.79Z" fill="#1cbf80"/>
<path d="M717.99,502.98L724.64,502.98L721.31,509.79Z" fill="#1cbf80"/>
<path d="M726.33,502.98L732.99,502.98L729.66,509.79Z" fill="#1cbf80"/>
<path d="M734.68,502.98L741.33,502.98L738.01,509.79Z" fill="#1cbf80"/>
<path d="M745.81,502.98L752.46,502.98L749.13,509.79Z" fill="#1cbf80"/>
<path d="M754.15,502.98L760.81,502.98L757.48,509.79Z" fill="#1cbf80"/>
<path d="M762.50,502.98L769.15,502.98L765.83,509.79Z" fill="#1cbf80"/>
<path d="M768.06,502.98L774.72,502.98L771.39,509.79Z" fill="#1cbf80"/>
<path d="M781.97,502.98L788.62,502.98L785.30,509.79Z" fill="#1cbf80"/>
<path d="M687.39,502.98L694.04,502.98L690.71,509.79Z" fill="#1cbf80"/>
<path d="M701.30,489.67L707.95,489.67L704.62,496.49Z" fill="#1cbf80"/>
<path d="M709.64,413.38L716.29,413.38L712.97,420.20Z" fill="#1cbf80"/>
<path d="M717.99,380.30L724.64,380.30L721.31,387.12Z" fill="#1cbf80"/>
<path d="M687.39,500.53L694.04,500.53L690.71,507.35Z" fill="#1cbf80"/>
<path d="M701.30,495.65L707.95,495.65L704.62,502.47Z" fill="#1cbf80"/>
<path d="M709.64,485.03L716.29,485.03L712.97,491.85Z" fill="#1cbf80"/>
<path d="M717.99,429.37L724.64,429.37L721.31,436.19Z" fill="#1cbf80"/>
<path d="M709.64,502.98L716.29,502.98L712.97,509.79Z" fill="#1cbf80"/>
<path d="M717.99,487.60L724.64,487.60L721.31,494.41Z" fill="#1cbf80"/>
<path d="M734.68,417.04L741.33,417.04L738.01,423.86Z" fill="#1cbf80"/>
<path d="M745.81,319.15L752.46,319.15L749.13,325.97Z" fill="#1cbf80"/>
<line x1="653.90" y1="313.10" x2="670.90" y2="313.10" stroke="#1cbf80" stroke-width="1.1"/>
<path d="M659.07,309.78L665.73,309.78L662.40,316.59Z" fill="#1cbf80"/>
<text x="0" y="0" font-size="10" text-anchor="start" fill="#222" transform="translate(679.40,316.70) scale(1.04,1)" class="th2">p19Arf/IFN&#946;</text>
<text x="0" y="0" font-size="11.3" text-anchor="start" fill="#222" transform="translate(774.00,498.00) scale(1.05,1)" class="th2">3/6</text>
<line x1="446.90" y1="563.70" x2="446.90" y2="760.70" stroke="#1a1a1a" stroke-width="1.4"/>
<line x1="446.20" y1="760.00" x2="586.00" y2="760.00" stroke="#1a1a1a" stroke-width="1.4"/>
<line x1="442.10" y1="760.00" x2="446.90" y2="760.00" stroke="#1a1a1a" stroke-width="1.2"/>
<text x="0" y="0" font-size="10.4" text-anchor="end" fill="#1a1a1a" transform="translate(441.60,764.10) scale(1.0,1)" class="th">0</text>
<line x1="442.10" y1="735.46" x2="446.90" y2="735.46" stroke="#1a1a1a" stroke-width="1.2"/>
<text x="0" y="0" font-size="10.4" text-anchor="end" fill="#1a1a1a" transform="translate(441.60,739.56) scale(1.0,1)" class="th">200</text>
<line x1="442.10" y1="710.92" x2="446.90" y2="710.92" stroke="#1a1a1a" stroke-width="1.2"/>
<text x="0" y="0" font-size="10.4" text-anchor="end" fill="#1a1a1a" transform="translate(441.60,715.02) scale(1.0,1)" class="th">400</text>
<line x1="442.10" y1="686.39" x2="446.90" y2="686.39" stroke="#1a1a1a" stroke-width="1.2"/>
<text x="0" y="0" font-size="10.4" text-anchor="end" fill="#1a1a1a" transform="translate(441.60,690.49) scale(1.0,1)" class="th">600</text>
<line x1="442.10" y1="661.85" x2="446.90" y2="661.85" stroke="#1a1a1a" stroke-width="1.2"/>
<text x="0" y="0" font-size="10.4" text-anchor="end" fill="#1a1a1a" transform="translate(441.60,665.95) scale(1.0,1)" class="th">800</text>
<line x1="442.10" y1="637.31" x2="446.90" y2="637.31" stroke="#1a1a1a" stroke-width="1.2"/>
<text x="0" y="0" font-size="10.4" text-anchor="end" fill="#1a1a1a" transform="translate(441.60,641.41) scale(1.0,1)" class="th">1000</text>
<line x1="442.10" y1="612.78" x2="446.90" y2="612.78" stroke="#1a1a1a" stroke-width="1.2"/>
<text x="0" y="0" font-size="10.4" text-anchor="end" fill="#1a1a1a" transform="translate(441.60,616.88) scale(1.0,1)" class="th">1200</text>
<line x1="442.10" y1="588.24" x2="446.90" y2="588.24" stroke="#1a1a1a" stroke-width="1.2"/>
<text x="0" y="0" font-size="10.4" text-anchor="end" fill="#1a1a1a" transform="translate(441.60,592.34) scale(1.0,1)" class="th">1400</text>
<line x1="442.10" y1="563.70" x2="446.90" y2="563.70" stroke="#1a1a1a" stroke-width="1.2"/>
<text x="0" y="0" font-size="10.4" text-anchor="end" fill="#1a1a1a" transform="translate(441.60,567.80) scale(1.0,1)" class="th">1600</text>
<line x1="446.90" y1="760.00" x2="446.90" y2="764.40" stroke="#111" stroke-width="1.3"/>
<text x="0" y="0" font-size="10.4" text-anchor="middle" fill="#1a1a1a" transform="translate(446.60,774.80) scale(1.0,1)" class="th">0</text>
<line x1="460.81" y1="760.00" x2="460.81" y2="764.40" stroke="#111" stroke-width="1.3"/>
<text x="0" y="0" font-size="10.4" text-anchor="middle" fill="#1a1a1a" transform="translate(460.51,774.80) scale(1.0,1)" class="th">5</text>
<line x1="474.72" y1="760.00" x2="474.72" y2="764.40" stroke="#111" stroke-width="1.3"/>
<text x="0" y="0" font-size="10.4" text-anchor="middle" fill="#1a1a1a" transform="translate(474.42,774.80) scale(1.0,1)" class="th">10</text>
<line x1="488.63" y1="760.00" x2="488.63" y2="764.40" stroke="#111" stroke-width="1.3"/>
<text x="0" y="0" font-size="10.4" text-anchor="middle" fill="#1a1a1a" transform="translate(488.33,774.80) scale(1.0,1)" class="th">15</text>
<line x1="502.54" y1="760.00" x2="502.54" y2="764.40" stroke="#111" stroke-width="1.3"/>
<text x="0" y="0" font-size="10.4" text-anchor="middle" fill="#1a1a1a" transform="translate(502.24,774.80) scale(1.0,1)" class="th">20</text>
<line x1="516.45" y1="760.00" x2="516.45" y2="764.40" stroke="#111" stroke-width="1.3"/>
<text x="0" y="0" font-size="10.4" text-anchor="middle" fill="#1a1a1a" transform="translate(516.15,774.80) scale(1.0,1)" class="th">25</text>
<line x1="530.36" y1="760.00" x2="530.36" y2="764.40" stroke="#111" stroke-width="1.3"/>
<text x="0" y="0" font-size="10.4" text-anchor="middle" fill="#1a1a1a" transform="translate(530.06,774.80) scale(1.0,1)" class="th">30</text>
<line x1="544.27" y1="760.00" x2="544.27" y2="764.40" stroke="#111" stroke-width="1.3"/>
<text x="0" y="0" font-size="10.4" text-anchor="middle" fill="#1a1a1a" transform="translate(543.97,774.80) scale(1.0,1)" class="th">35</text>
<line x1="558.18" y1="760.00" x2="558.18" y2="764.40" stroke="#111" stroke-width="1.3"/>
<text x="0" y="0" font-size="10.4" text-anchor="middle" fill="#1a1a1a" transform="translate(557.88,774.80) scale(1.0,1)" class="th">40</text>
<line x1="572.09" y1="760.00" x2="572.09" y2="764.40" stroke="#111" stroke-width="1.3"/>
<text x="0" y="0" font-size="10.4" text-anchor="middle" fill="#1a1a1a" transform="translate(571.79,774.80) scale(1.0,1)" class="th">45</text>
<line x1="586.00" y1="760.00" x2="586.00" y2="764.40" stroke="#111" stroke-width="1.3"/>
<text x="0" y="0" font-size="10.4" text-anchor="middle" fill="#1a1a1a" transform="translate(585.70,774.80) scale(1.0,1)" class="th">50</text>
<text x="0" y="0" font-size="10" font-weight="bold" text-anchor="middle" fill="#1a1a1a" transform="translate(516.45,789.00) scale(1.0,1)">DAYS ELAPSED</text>
<text x="0" y="0" font-size="9.6" font-weight="bold" text-anchor="middle" fill="#1a1a1a" transform="translate(410.10,661.05) scale(1,1) rotate(-90) scale(1,1.08)">TUMOR VOLUME (mm<tspan font-size="7" dy="-4">3</tspan><tspan dy="4">)</tspan></text>
<polyline points="505.32,760.00 513.67,747.36 522.01,668.11" fill="none" stroke="#1010f0" stroke-width="0.95"/>
<polyline points="522.01,760.00 530.36,747.36 538.71,737.18 549.83,686.88 558.18,650.44" fill="none" stroke="#1010f0" stroke-width="0.95"/>
<polyline points="522.01,760.00 530.36,754.23 538.71,745.65 549.83,737.18 558.18,668.11" fill="none" stroke="#1010f0" stroke-width="0.95"/>
<path d="M463.12,763.25L469.63,763.25L466.37,756.58Z" fill="#1010f0"/>
<path d="M479.81,763.25L486.32,763.25L483.07,756.58Z" fill="#1010f0"/>
<path d="M488.16,763.25L494.67,763.25L491.41,756.58Z" fill="#1010f0"/>
<path d="M502.07,763.25L508.58,763.25L505.32,756.58Z" fill="#1010f0"/>
<path d="M510.41,763.25L516.92,763.25L513.67,756.58Z" fill="#1010f0"/>
<path d="M518.76,763.25L525.27,763.25L522.01,756.58Z" fill="#1010f0"/>
<path d="M527.11,763.25L533.62,763.25L530.36,756.58Z" fill="#1010f0"/>
<path d="M535.45,763.25L541.96,763.25L538.71,756.58Z" fill="#1010f0"/>
<path d="M546.58,763.25L553.09,763.25L549.83,756.58Z" fill="#1010f0"/>
<path d="M554.92,763.25L561.43,763.25L558.18,756.58Z" fill="#1010f0"/>
<path d="M563.27,763.25L569.78,763.25L566.53,756.58Z" fill="#1010f0"/>
<path d="M568.84,763.25L575.35,763.25L572.09,756.58Z" fill="#1010f0"/>
<path d="M582.75,763.25L589.25,763.25L586.00,756.58Z" fill="#1010f0"/>
<path d="M502.07,763.25L508.58,763.25L505.32,756.58Z" fill="#1010f0"/>
<path d="M510.41,750.62L516.92,750.62L513.67,743.95Z" fill="#1010f0"/>
<path d="M518.76,671.36L525.27,671.36L522.01,664.69Z" fill="#1010f0"/>
<path d="M518.76,763.25L525.27,763.25L522.01,756.58Z" fill="#1010f0"/>
<path d="M527.11,750.62L533.62,750.62L530.36,743.95Z" fill="#1010f0"/>
<path d="M535.45,740.44L541.96,740.44L538.71,733.76Z" fill="#1010f0"/>
<path d="M546.58,690.13L553.09,690.13L549.83,683.46Z" fill="#1010f0"/>
<path d="M554.92,653.70L561.43,653.70L558.18,647.02Z" fill="#1010f0"/>
<path d="M518.76,763.25L525.27,763.25L522.01,756.58Z" fill="#1010f0"/>
<path d="M527.11,757.49L533.62,757.49L530.36,750.82Z" fill="#1010f0"/>
<path d="M535.45,748.90L541.96,748.90L538.71,742.23Z" fill="#1010f0"/>
<path d="M546.58,740.44L553.09,740.44L549.83,733.76Z" fill="#1010f0"/>
<path d="M554.92,671.36L561.43,671.36L558.18,664.69Z" fill="#1010f0"/>
<line x1="454.70" y1="566.10" x2="471.70" y2="566.10" stroke="#1010f0" stroke-width="1.1"/>
<path d="M459.94,569.36L466.45,569.36L463.20,562.68Z" fill="#1010f0"/>
<text x="0" y="0" font-size="10" text-anchor="start" fill="#222" transform="translate(480.20,569.70) scale(1.04,1)" class="th2">Dox</text>
<text x="0" y="0" font-size="11.3" text-anchor="start" fill="#222" transform="translate(573.80,752.00) scale(1.05,1)" class="th2">3/6</text>
<line x1="645.40" y1="564.40" x2="645.40" y2="760.60" stroke="#1a1a1a" stroke-width="1.4"/>
<line x1="644.70" y1="759.90" x2="784.80" y2="759.90" stroke="#1a1a1a" stroke-width="1.4"/>
<line x1="640.60" y1="759.90" x2="645.40" y2="759.90" stroke="#1a1a1a" stroke-width="1.2"/>
<text x="0" y="0" font-size="10.4" text-anchor="end" fill="#1a1a1a" transform="translate(640.10,764.00) scale(1.0,1)" class="th">0</text>
<line x1="640.60" y1="735.46" x2="645.40" y2="735.46" stroke="#1a1a1a" stroke-width="1.2"/>
<text x="0" y="0" font-size="10.4" text-anchor="end" fill="#1a1a1a" transform="translate(640.10,739.56) scale(1.0,1)" class="th">200</text>
<line x1="640.60" y1="711.02" x2="645.40" y2="711.02" stroke="#1a1a1a" stroke-width="1.2"/>
<text x="0" y="0" font-size="10.4" text-anchor="end" fill="#1a1a1a" transform="translate(640.10,715.12) scale(1.0,1)" class="th">400</text>
<line x1="640.60" y1="686.59" x2="645.40" y2="686.59" stroke="#1a1a1a" stroke-width="1.2"/>
<text x="0" y="0" font-size="10.4" text-anchor="end" fill="#1a1a1a" transform="translate(640.10,690.69) scale(1.0,1)" class="th">600</text>
<line x1="640.60" y1="662.15" x2="645.40" y2="662.15" stroke="#1a1a1a" stroke-width="1.2"/>
<text x="0" y="0" font-size="10.4" text-anchor="end" fill="#1a1a1a" transform="translate(640.10,666.25) scale(1.0,1)" class="th">800</text>
<line x1="640.60" y1="637.71" x2="645.40" y2="637.71" stroke="#1a1a1a" stroke-width="1.2"/>
<text x="0" y="0" font-size="10.4" text-anchor="end" fill="#1a1a1a" transform="translate(640.10,641.81) scale(1.0,1)" class="th">1000</text>
<line x1="640.60" y1="613.27" x2="645.40" y2="613.27" stroke="#1a1a1a" stroke-width="1.2"/>
<text x="0" y="0" font-size="10.4" text-anchor="end" fill="#1a1a1a" transform="translate(640.10,617.38) scale(1.0,1)" class="th">1200</text>
<line x1="640.60" y1="588.84" x2="645.40" y2="588.84" stroke="#1a1a1a" stroke-width="1.2"/>
<text x="0" y="0" font-size="10.4" text-anchor="end" fill="#1a1a1a" transform="translate(640.10,592.94) scale(1.0,1)" class="th">1400</text>
<line x1="640.60" y1="564.40" x2="645.40" y2="564.40" stroke="#1a1a1a" stroke-width="1.2"/>
<text x="0" y="0" font-size="10.4" text-anchor="end" fill="#1a1a1a" transform="translate(640.10,568.50) scale(1.0,1)" class="th">1600</text>
<line x1="645.40" y1="759.90" x2="645.40" y2="764.30" stroke="#111" stroke-width="1.3"/>
<text x="0" y="0" font-size="10.4" text-anchor="middle" fill="#1a1a1a" transform="translate(645.10,774.70) scale(1.0,1)" class="th">0</text>
<line x1="659.34" y1="759.90" x2="659.34" y2="764.30" stroke="#111" stroke-width="1.3"/>
<text x="0" y="0" font-size="10.4" text-anchor="middle" fill="#1a1a1a" transform="translate(659.04,774.70) scale(1.0,1)" class="th">5</text>
<line x1="673.28" y1="759.90" x2="673.28" y2="764.30" stroke="#111" stroke-width="1.3"/>
<text x="0" y="0" font-size="10.4" text-anchor="middle" fill="#1a1a1a" transform="translate(672.98,774.70) scale(1.0,1)" class="th">10</text>
<line x1="687.22" y1="759.90" x2="687.22" y2="764.30" stroke="#111" stroke-width="1.3"/>
<text x="0" y="0" font-size="10.4" text-anchor="middle" fill="#1a1a1a" transform="translate(686.92,774.70) scale(1.0,1)" class="th">15</text>
<line x1="701.16" y1="759.90" x2="701.16" y2="764.30" stroke="#111" stroke-width="1.3"/>
<text x="0" y="0" font-size="10.4" text-anchor="middle" fill="#1a1a1a" transform="translate(700.86,774.70) scale(1.0,1)" class="th">20</text>
<line x1="715.10" y1="759.90" x2="715.10" y2="764.30" stroke="#111" stroke-width="1.3"/>
<text x="0" y="0" font-size="10.4" text-anchor="middle" fill="#1a1a1a" transform="translate(714.80,774.70) scale(1.0,1)" class="th">25</text>
<line x1="729.04" y1="759.90" x2="729.04" y2="764.30" stroke="#111" stroke-width="1.3"/>
<text x="0" y="0" font-size="10.4" text-anchor="middle" fill="#1a1a1a" transform="translate(728.74,774.70) scale(1.0,1)" class="th">30</text>
<line x1="742.98" y1="759.90" x2="742.98" y2="764.30" stroke="#111" stroke-width="1.3"/>
<text x="0" y="0" font-size="10.4" text-anchor="middle" fill="#1a1a1a" transform="translate(742.68,774.70) scale(1.0,1)" class="th">35</text>
<line x1="756.92" y1="759.90" x2="756.92" y2="764.30" stroke="#111" stroke-width="1.3"/>
<text x="0" y="0" font-size="10.4" text-anchor="middle" fill="#1a1a1a" transform="translate(756.62,774.70) scale(1.0,1)" class="th">40</text>
<line x1="770.86" y1="759.90" x2="770.86" y2="764.30" stroke="#111" stroke-width="1.3"/>
<text x="0" y="0" font-size="10.4" text-anchor="middle" fill="#1a1a1a" transform="translate(770.56,774.70) scale(1.0,1)" class="th">45</text>
<line x1="784.80" y1="759.90" x2="784.80" y2="764.30" stroke="#111" stroke-width="1.3"/>
<text x="0" y="0" font-size="10.4" text-anchor="middle" fill="#1a1a1a" transform="translate(784.50,774.70) scale(1.0,1)" class="th">50</text>
<text x="0" y="0" font-size="10" font-weight="bold" text-anchor="middle" fill="#1a1a1a" transform="translate(715.10,789.00) scale(1.0,1)">DAYS ELAPSED</text>
<text x="0" y="0" font-size="9.6" font-weight="bold" text-anchor="middle" fill="#1a1a1a" transform="translate(608.60,661.35) scale(1,1) rotate(-90) scale(1,1.08)">TUMOR VOLUME (mm<tspan font-size="7" dy="-4">3</tspan><tspan dy="4">)</tspan></text>
<polyline points="703.95,759.90 712.31,757.46 720.68,752.45 729.04,698.81 737.40,588.59" fill="none" stroke="#f03c3c" stroke-width="0.95"/>
<polyline points="756.92,759.90 765.28,751.35 770.86,738.88 784.80,564.40" fill="none" stroke="#f03c3c" stroke-width="0.95"/>
<path d="M664.92,755.70L669.12,759.90L664.92,764.10L660.72,759.90Z" fill="#f03c3c"/>
<path d="M681.64,755.70L685.84,759.90L681.64,764.10L677.44,759.90Z" fill="#f03c3c"/>
<path d="M690.01,755.70L694.21,759.90L690.01,764.10L685.81,759.90Z" fill="#f03c3c"/>
<path d="M703.95,755.70L708.15,759.90L703.95,764.10L699.75,759.90Z" fill="#f03c3c"/>
<path d="M712.31,755.70L716.51,759.90L712.31,764.10L708.11,759.90Z" fill="#f03c3c"/>
<path d="M720.68,755.70L724.88,759.90L720.68,764.10L716.48,759.90Z" fill="#f03c3c"/>
<path d="M729.04,755.70L733.24,759.90L729.04,764.10L724.84,759.90Z" fill="#f03c3c"/>
<path d="M737.40,755.70L741.60,759.90L737.40,764.10L733.20,759.90Z" fill="#f03c3c"/>
<path d="M748.56,755.70L752.76,759.90L748.56,764.10L744.36,759.90Z" fill="#f03c3c"/>
<path d="M756.92,755.70L761.12,759.90L756.92,764.10L752.72,759.90Z" fill="#f03c3c"/>
<path d="M765.28,755.70L769.48,759.90L765.28,764.10L761.08,759.90Z" fill="#f03c3c"/>
<path d="M770.86,755.70L775.06,759.90L770.86,764.10L766.66,759.90Z" fill="#f03c3c"/>
<path d="M784.80,755.70L789.00,759.90L784.80,764.10L780.60,759.90Z" fill="#f03c3c"/>
<path d="M703.95,755.70L708.15,759.90L703.95,764.10L699.75,759.90Z" fill="#f03c3c"/>
<path d="M712.31,753.26L716.51,757.46L712.31,761.66L708.11,757.46Z" fill="#f03c3c"/>
<path d="M720.68,748.25L724.88,752.45L720.68,756.65L716.48,752.45Z" fill="#f03c3c"/>
<path d="M729.04,694.61L733.24,698.81L729.04,703.01L724.84,698.81Z" fill="#f03c3c"/>
<path d="M737.40,584.39L741.60,588.59L737.40,592.79L733.20,588.59Z" fill="#f03c3c"/>
<path d="M756.92,755.70L761.12,759.90L756.92,764.10L752.72,759.90Z" fill="#f03c3c"/>
<path d="M765.28,747.15L769.48,751.35L765.28,755.55L761.08,751.35Z" fill="#f03c3c"/>
<path d="M770.86,734.68L775.06,738.88L770.86,743.08L766.66,738.88Z" fill="#f03c3c"/>
<path d="M784.80,560.20L789.00,564.40L784.80,568.60L780.60,564.40Z" fill="#f03c3c"/>
<line x1="652.90" y1="565.40" x2="669.90" y2="565.40" stroke="#f03c3c" stroke-width="1.1"/>
<path d="M661.40,561.20L665.60,565.40L661.40,569.60L657.20,565.40Z" fill="#f03c3c"/>
<text x="0" y="0" font-size="10" text-anchor="start" fill="#222" transform="translate(678.40,569.00) scale(1.04,1)" class="th2">p19Arf/IFN&#946;+Dox</text>
<text x="0" y="0" font-size="11.3" text-anchor="start" fill="#222" transform="translate(772.90,752.00) scale(1.05,1)" class="th2">5/7</text>
</svg>
</body></html>
